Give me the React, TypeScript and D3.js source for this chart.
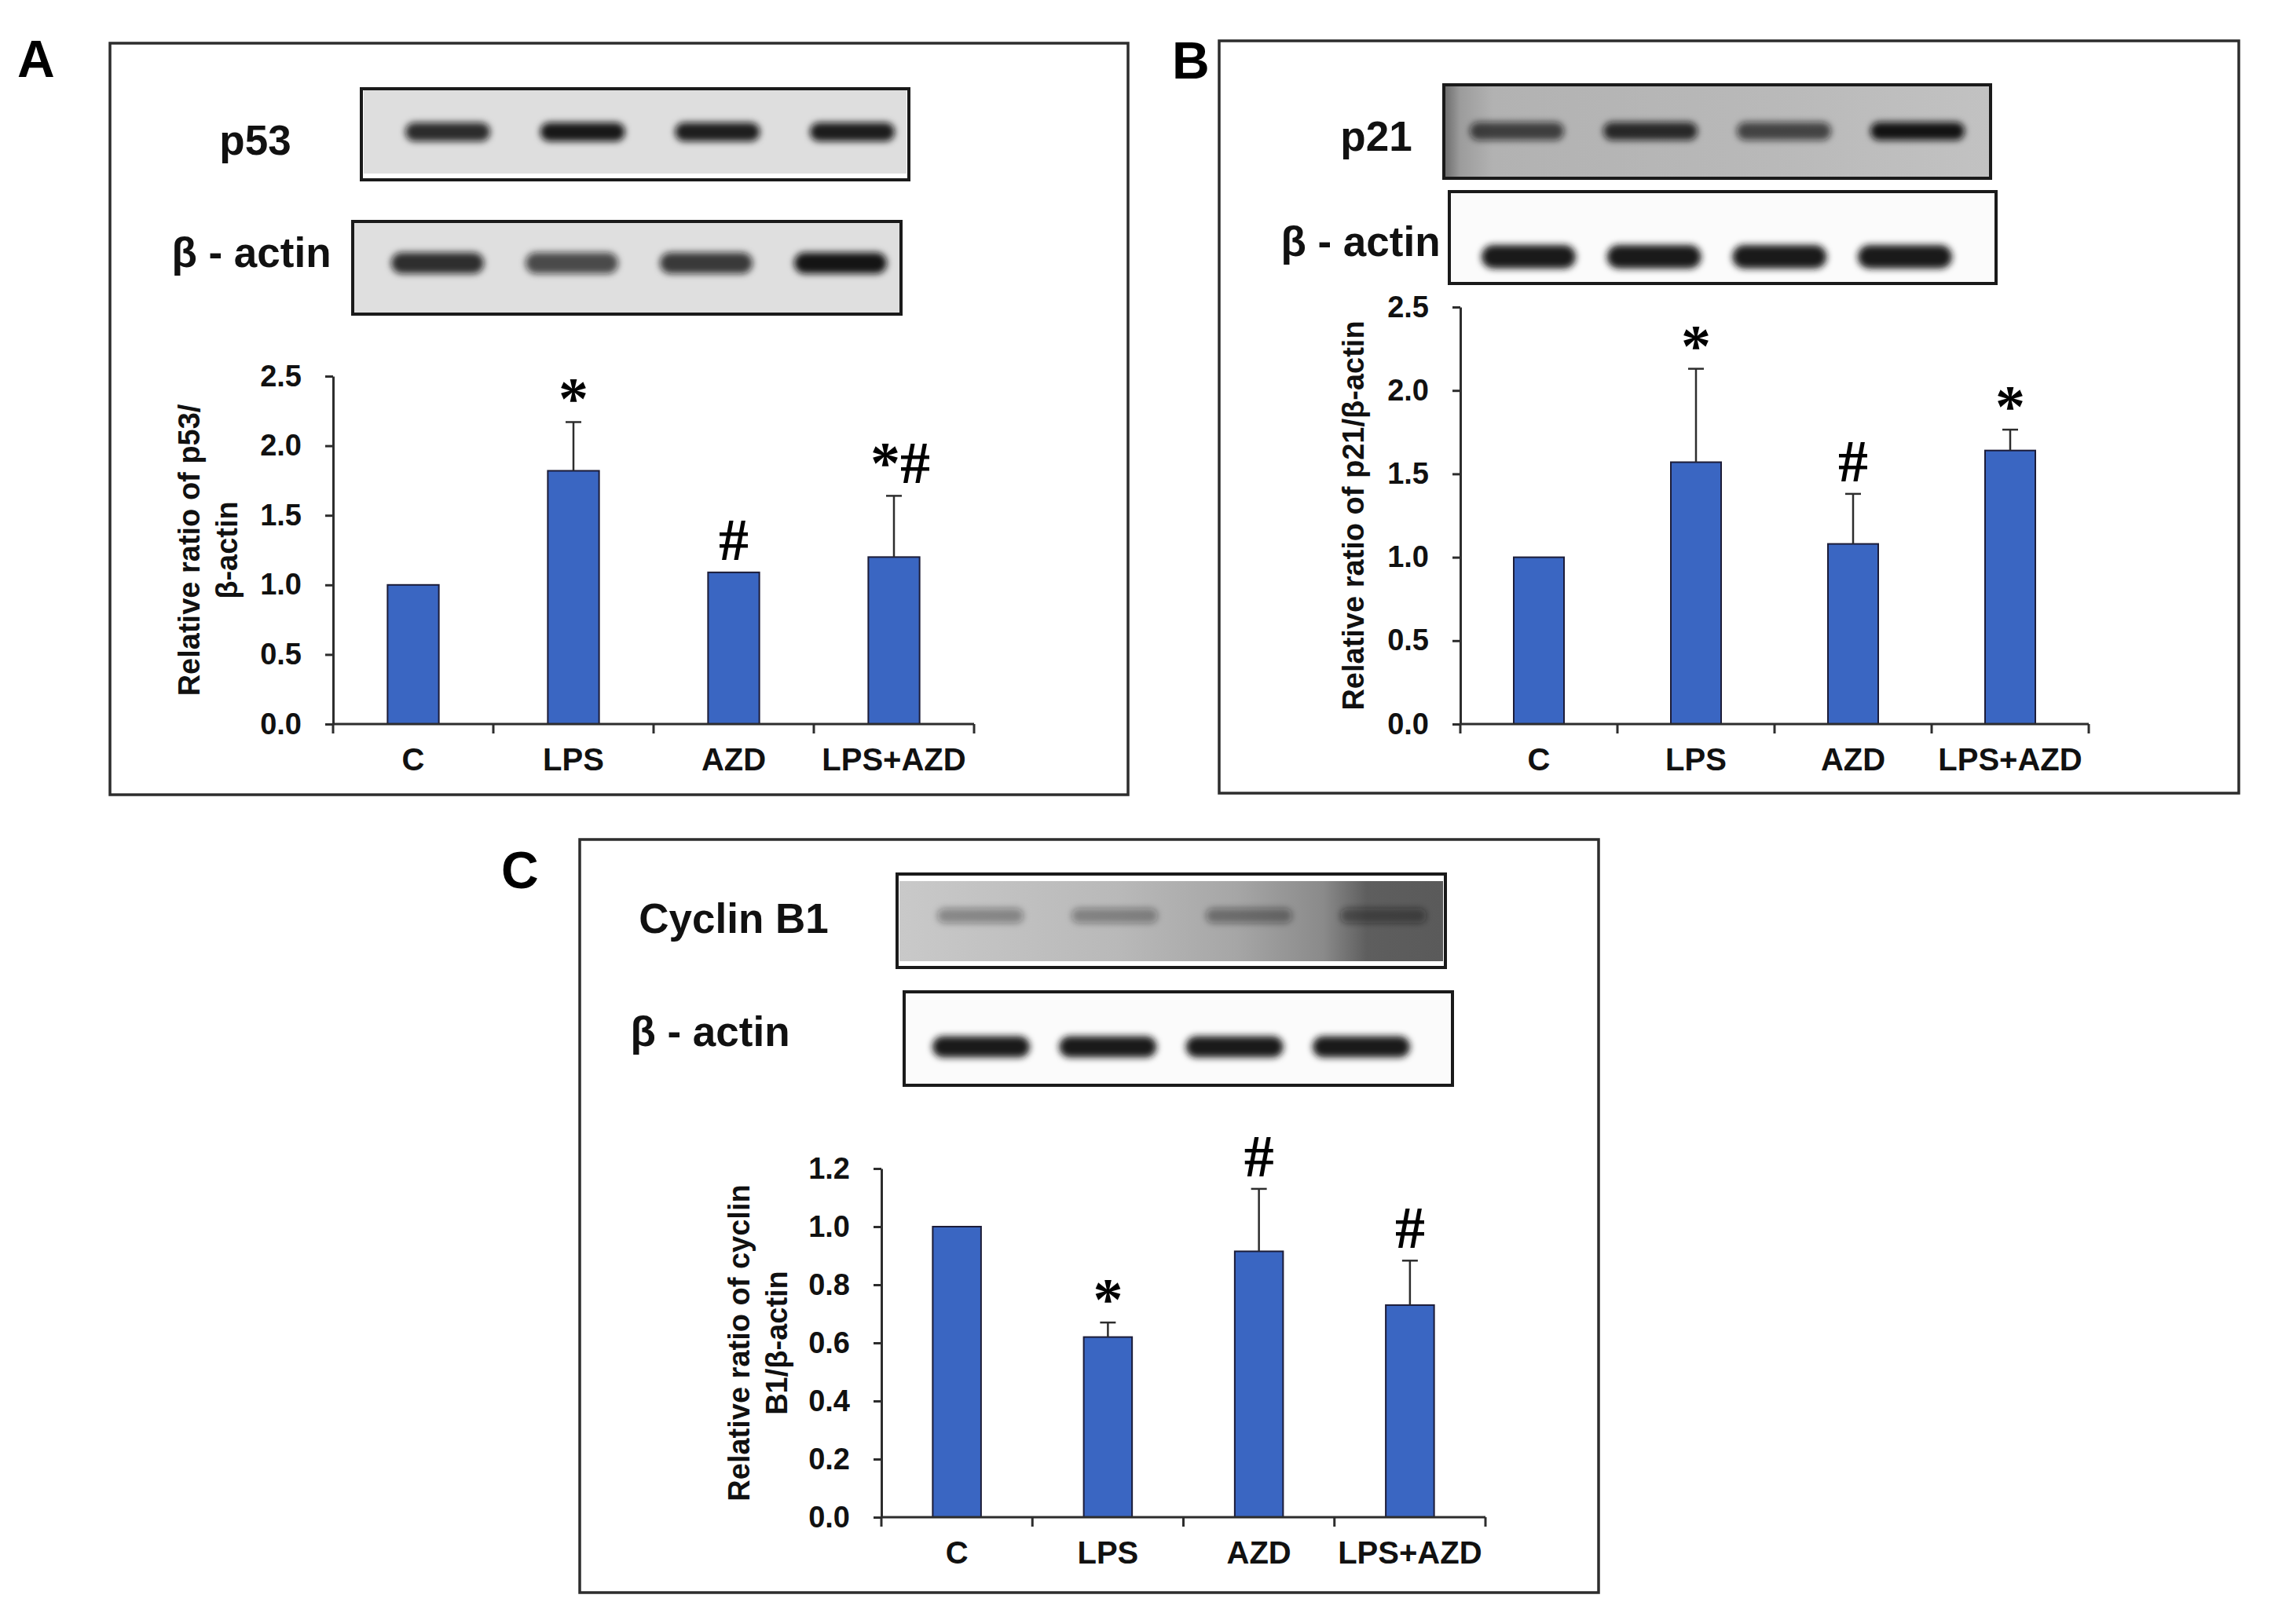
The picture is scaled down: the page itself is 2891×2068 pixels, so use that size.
import React, { useRef, useEffect } from 'react';
import * as d3 from 'd3';

// treatment groups, shared by all three panels
const groups = ['C', 'LPS', 'AZD', 'LPS+AZD'];

// Panel A: p53 / β-actin
const p53Ratio = [1.0, 1.82, 1.09, 1.2];
const p53Err = [0, 0.35, 0, 0.44];
const p53Sig = ['', '*', '#', '*#'];
const p53Ticks = [0, 0.5, 1.0, 1.5, 2.0, 2.5];

// Panel B: p21 / β-actin
const p21Ratio = [1.0, 1.57, 1.08, 1.64];
const p21Err = [0, 0.56, 0.3, 0.125];
const p21Sig = ['', '*', '#', '*'];
const p21Ticks = [0, 0.5, 1.0, 1.5, 2.0, 2.5];

// Panel C: cyclin B1 / β-actin
const cyclinRatio = [1.0, 0.62, 0.915, 0.73];
const cyclinErr = [0, 0.05, 0.215, 0.153];
const cyclinSig = ['', '*', '#', '#'];
const cyclinTicks = [0, 0.2, 0.4, 0.6, 0.8, 1.0, 1.2];

// western blot band darkness per lane (0 = none, 1 = black)
const p53Bands = [0.86, 0.95, 0.92, 0.93];
const p53ActinBands = [0.85, 0.72, 0.8, 0.97];
const p21Bands = [0.72, 0.85, 0.7, 0.97];
const p21ActinBands = [0.98, 0.98, 0.98, 0.98];
const cyclinBands = [0.36, 0.36, 0.42, 0.45];
const cyclinActinBands = [0.98, 0.98, 0.98, 0.98];

const W = 2891;
const H = 2068;
const SANS = '"Liberation Sans", Arial, Helvetica, sans-serif';
const SERIF = '"Liberation Serif", "Times New Roman", serif';
const BAR_FILL = '#3a66c2';
const BAR_STROKE = '#1c1c38';
const AXIS = '#2d2d2d';

// layout of each panel (pixel positions live here, not in the data)
const panels = [
  {
    letter: 'A', letterX: 22, letterY: 98,
    frame: [140, 55, 1296, 957],
    plot: { x0: 424, x1: 1240, y0: 922, y1: 479 },
    yMax: 2.5, ticks: p53Ticks,
    values: p53Ratio, errors: p53Err, sig: p53Sig,
    yTitle: ['Relative ratio of p53/', 'β-actin'], titleX: 254,
    blots: [
      { label: 'p53', labelX: 325, labelY: 197, box: [460, 113, 697, 116], bg: '#dedede', strip: 'bottom',
        lanes: [570, 1085], bandY: 168, bandW: 108, bandH: 24, bands: p53Bands },
      { label: 'β - actin', labelX: 320, labelY: 340, box: [449, 282, 698, 118], bg: '#dfdfdf', strip: 'none',
        lanes: [557, 1070], bandY: 335, bandW: 118, bandH: 27, bands: p53ActinBands },
    ],
  },
  {
    letter: 'B', letterX: 1492, letterY: 100,
    frame: [1552, 52, 1298, 958],
    plot: { x0: 1859, x1: 2659, y0: 922, y1: 391 },
    yMax: 2.5, ticks: p21Ticks,
    values: p21Ratio, errors: p21Err, sig: p21Sig,
    yTitle: ['Relative ratio of p21/β-actin'], titleX: 1736,
    blots: [
      { label: 'p21', labelX: 1752, labelY: 192, box: [1838, 108, 696, 119], bg: 'url(#p21bg)', strip: 'none',
        lanes: [1931, 2441], bandY: 167, bandW: 120, bandH: 23, bands: p21Bands },
      { label: 'β - actin', labelX: 1732, labelY: 326, box: [1845, 244, 696, 117], bg: '#fbfbfb', strip: 'none',
        lanes: [1946, 2425], bandY: 327, bandW: 120, bandH: 30, bands: p21ActinBands },
    ],
  },
  {
    letter: 'C', letterX: 638, letterY: 1131,
    frame: [738, 1069, 1297, 959],
    plot: { x0: 1122, x1: 1891, y0: 1932, y1: 1488 },
    yMax: 1.2, ticks: cyclinTicks,
    values: cyclinRatio, errors: cyclinErr, sig: cyclinSig,
    yTitle: ['Relative ratio of cyclin', 'B1/β-actin'], titleX: 954,
    blots: [
      { label: 'Cyclin B1', labelX: 934, labelY: 1188, box: [1142, 1113, 698, 119], bg: 'url(#cyclinbg)', strip: 'both',
        lanes: [1248, 1761], bandY: 1166, bandW: 110, bandH: 19, bands: cyclinBands },
      { label: 'β - actin', labelX: 904, labelY: 1332, box: [1151, 1263, 698, 119], bg: '#fbfbfb', strip: 'none',
        lanes: [1249, 1733], bandY: 1333, bandW: 124, bandH: 27, bands: cyclinActinBands },
    ],
  },
];

function drawBlot(g, b) {
  const [bx, by, bw, bh] = b.box;
  g.append('rect').attr('x', bx).attr('y', by).attr('width', bw).attr('height', bh).attr('fill', '#fff');
  // thin white margins left by the scanned film
  const top = b.strip === 'both' ? 9 : 0;
  const bottom = b.strip === 'none' ? 0 : 8;
  g.append('rect')
    .attr('x', bx + (b.strip === 'none' ? 0 : 3))
    .attr('y', by + top)
    .attr('width', bw - (b.strip === 'none' ? 0 : 6))
    .attr('height', bh - top - bottom)
    .attr('fill', b.bg);

  const lane = d3.scalePoint().domain(groups).range(b.lanes);
  g.append('g')
    .attr('filter', 'url(#blur)')
    .selectAll('rect')
    .data(b.bands)
    .enter()
    .append('rect')
    .attr('x', (d, i) => lane(groups[i]) - b.bandW / 2)
    .attr('y', b.bandY - b.bandH / 2)
    .attr('width', b.bandW)
    .attr('height', b.bandH)
    .attr('rx', b.bandH / 2)
    .attr('fill', '#121212')
    .attr('fill-opacity', d => d);
  g.append('rect').attr('x', bx).attr('y', by).attr('width', bw).attr('height', bh)
    .attr('fill', 'none').attr('stroke', '#1a1a1a').attr('stroke-width', 4);

  g.append('text')
    .attr('x', b.labelX)
    .attr('y', b.labelY)
    .attr('text-anchor', 'middle')
    .attr('font-family', SANS)
    .attr('font-weight', 'bold')
    .attr('font-size', 53)
    .attr('fill', '#111')
    .text(b.label);
}

function drawPanel(svg, p) {
  const g = svg.append('g');
  const [fx, fy, fw, fh] = p.frame;
  g.append('rect').attr('x', fx).attr('y', fy).attr('width', fw).attr('height', fh)
    .attr('fill', 'none').attr('stroke', AXIS).attr('stroke-width', 3.5);

  g.append('text')
    .attr('x', p.letterX)
    .attr('y', p.letterY)
    .attr('font-family', SANS)
    .attr('font-weight', 'bold')
    .attr('font-size', 66)
    .attr('fill', '#000')
    .text(p.letter);

  p.blots.forEach(b => drawBlot(g, b));

  const { x0, x1, y0, y1 } = p.plot;
  const x = d3.scaleBand().domain(groups).range([x0, x1]).paddingInner(0.68).paddingOuter(0.34);
  const y = d3.scaleLinear().domain([0, p.yMax]).range([y0, y1]);

  // y axis
  const yAxis = d3.axisLeft(y)
    .tickValues(p.ticks)
    .tickFormat(d3.format('.1f'))
    .tickSize(10)
    .tickSizeOuter(0)
    .tickPadding(30);
  const ya = g.append('g').attr('transform', `translate(${x0},0)`).call(yAxis);
  ya.select('.domain').attr('stroke', AXIS).attr('stroke-width', 3);
  ya.selectAll('.tick line').attr('stroke', AXIS).attr('stroke-width', 3);
  ya.selectAll('.tick text')
    .attr('font-family', SANS)
    .attr('font-weight', 'bold')
    .attr('font-size', 38)
    .attr('fill', '#111');

  // bars
  g.selectAll('.bar')
    .data(p.values)
    .enter()
    .append('rect')
    .attr('class', 'bar')
    .attr('x', (d, i) => x(groups[i]))
    .attr('y', d => y(d))
    .attr('width', x.bandwidth())
    .attr('height', d => y0 - y(d))
    .attr('fill', BAR_FILL)
    .attr('stroke', BAR_STROKE)
    .attr('stroke-width', 2);

  // upper error bars and significance marks
  p.values.forEach((v, i) => {
    const e = p.errors[i];
    const cx = x(groups[i]) + x.bandwidth() / 2;
    if (e > 0) {
      g.append('line').attr('x1', cx).attr('x2', cx).attr('y1', y(v)).attr('y2', y(v + e))
        .attr('stroke', AXIS).attr('stroke-width', 2.5);
      g.append('line').attr('x1', cx - 10).attr('x2', cx + 10).attr('y1', y(v + e)).attr('y2', y(v + e))
        .attr('stroke', AXIS).attr('stroke-width', 2.5);
    }
    if (p.sig[i]) {
      g.append('text')
        .attr('x', cx + (p.sig[i].length > 1 ? 8 : 0))
        .attr('y', y(v + e) - (p.sig[i] === '*' ? 4 : 16))
        .attr('text-anchor', 'middle')
        .attr('font-family', SERIF)
        .attr('font-weight', 'bold')
        .attr('font-size', 76)
        .attr('fill', '#000')
        .text(p.sig[i]);
    }
  });

  // x axis with ticks between groups
  g.append('line').attr('x1', x0).attr('x2', x1).attr('y1', y0).attr('y2', y0)
    .attr('stroke', AXIS).attr('stroke-width', 3);
  const bounds = groups.map(gr => x(gr) + x.bandwidth() / 2 - x.step() / 2).concat([x1]);
  g.selectAll('.xtick')
    .data(bounds)
    .enter()
    .append('line')
    .attr('class', 'xtick')
    .attr('x1', d => d).attr('x2', d => d)
    .attr('y1', y0).attr('y2', y0 + 12)
    .attr('stroke', AXIS).attr('stroke-width', 3);
  g.selectAll('.xlabel')
    .data(groups)
    .enter()
    .append('text')
    .attr('class', 'xlabel')
    .attr('x', d => x(d) + x.bandwidth() / 2)
    .attr('y', y0 + 59)
    .attr('text-anchor', 'middle')
    .attr('font-family', SANS)
    .attr('font-weight', 'bold')
    .attr('font-size', 40)
    .attr('fill', '#111')
    .text(d => d);

  // rotated y title
  const title = g.append('text')
    .attr('transform', `translate(${p.titleX},${(y0 + y1) / 2}) rotate(-90)`)
    .attr('text-anchor', 'middle')
    .attr('font-family', SANS)
    .attr('font-weight', 'bold')
    .attr('font-size', 38)
    .attr('fill', '#111');
  p.yTitle.forEach((line, i) => {
    title.append('tspan').attr('x', 0).attr('y', i * 48).text(line);
  });
}

export default function App() {
  const ref = useRef(null);

  useEffect(() => {
    const svg = d3.select(ref.current);
    svg.selectAll('*').remove();

    const defs = svg.append('defs');
    defs.append('filter')
      .attr('id', 'blur')
      .attr('x', '-10%').attr('y', '-50%').attr('width', '120%').attr('height', '200%')
      .append('feGaussianBlur')
      .attr('stdDeviation', 4.5);

    const p21bg = defs.append('linearGradient').attr('id', 'p21bg');
    [[0, '#6a6a6a'], [0.03, '#9c9c9c'], [0.09, '#b2b2b2'], [0.6, '#b9b9b9'], [1, '#c2c2c2']]
      .forEach(([o, c]) => p21bg.append('stop').attr('offset', o).attr('stop-color', c));

    const cyclinbg = defs.append('linearGradient').attr('id', 'cyclinbg');
    [[0, '#c9c9c9'], [0.4, '#b9b9b9'], [0.62, '#a6a6a6'], [0.78, '#8a8a8a'], [0.86, '#5e5e5e'], [1, '#5a5a5a']]
      .forEach(([o, c]) => cyclinbg.append('stop').attr('offset', o).attr('stop-color', c));

    panels.forEach(p => drawPanel(svg, p));
  }, []);

  return (
    <svg
      ref={ref}
      width={W}
      height={H}
      style={{ position: 'absolute', left: 0, top: 0, background: '#fff' }}
    />
  );
}
